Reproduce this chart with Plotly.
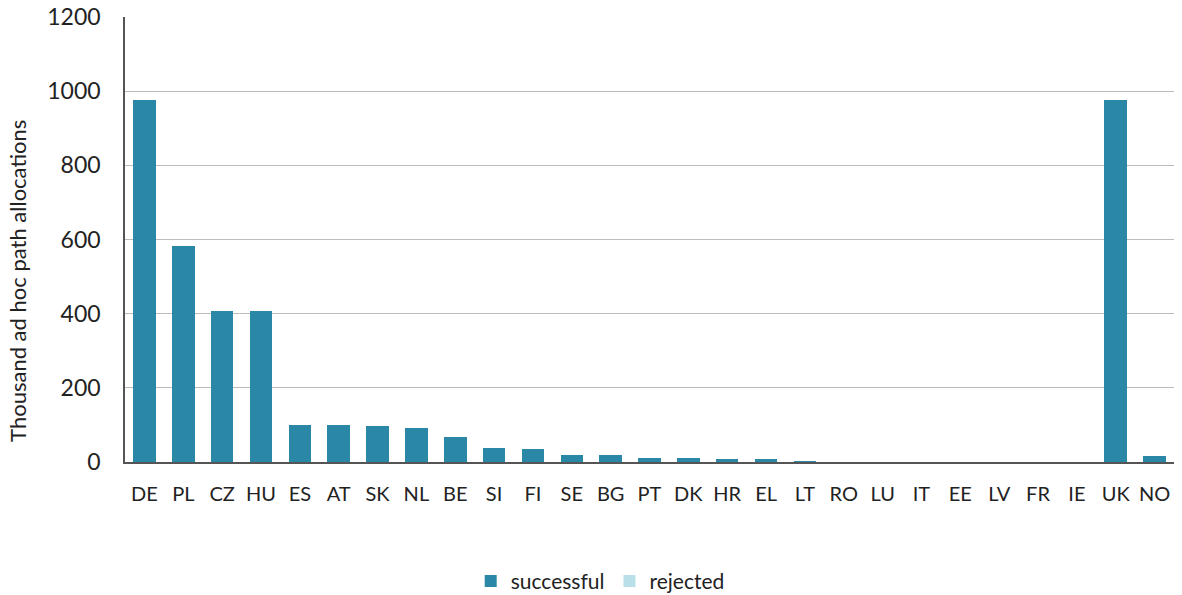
import plotly.graph_objects as go

countries = ["DE", "PL", "CZ", "HU", "ES", "AT", "SK", "NL", "BE", "SI", "FI", "SE", "BG", "PT",
             "DK", "HR", "EL", "LT", "RO", "LU", "IT", "EE", "LV", "FR", "IE", "UK", "NO"]
successful = [976, 582, 407, 407, 100, 100, 96, 92, 67, 37, 35, 20, 19, 12,
              10, 8, 8, 1.5, 0, 0, 0, 0, 0, 0, 0, 976, 15]
rejected = [0] * len(countries)
y_title = "Thousand ad hoc path allocations"

FONT = "Lato, 'Open Sans', sans-serif"

fig = go.Figure()
fig.add_trace(go.Bar(x=countries, y=successful, name="successful",
                     marker=dict(color="#2b87a6", line=dict(width=0))))
fig.add_trace(go.Bar(x=countries, y=rejected, name="rejected",
                     marker=dict(color="#b9dfe9", line=dict(width=0))))

fig.update_layout(
    width=1182, height=595,
    barmode="stack", bargap=0.42,
    paper_bgcolor="white", plot_bgcolor="white",
    margin=dict(l=125, r=8, t=17, b=133, autoexpand=False),
    font=dict(family=FONT, size=21, color="#222222"),
    legend=dict(orientation="h", x=0.453, xanchor="center", y=-0.268, yanchor="middle",
                font=dict(size=21), itemsizing="constant", traceorder="normal"),
    yaxis=dict(range=[0, 1200], dtick=200, showgrid=True, gridcolor="#bcbcbc", gridwidth=1.3,
               showline=True, linecolor="#555555", linewidth=1.5, zeroline=False,
               ticks="", ticklabelstandoff=18, automargin=False, tickfont=dict(size=23),
               ticklabeloverflow="allow"),
    xaxis=dict(showline=True, linecolor="#555555", linewidth=1.5, ticks="", automargin=False,
               ticklabelstandoff=13, tickangle=0, tickfont=dict(size=20)),
    annotations=[dict(text=y_title, textangle=-90, xref="paper", yref="paper",
                      x=0, y=0.407, xanchor="center", yanchor="middle", xshift=-107,
                      showarrow=False, font=dict(size=22, family=FONT, color="#222222"))],
)

fig.write_html("out.html", config={"displayModeBar": False},
               post_script="document.body.style.margin='0px';")
